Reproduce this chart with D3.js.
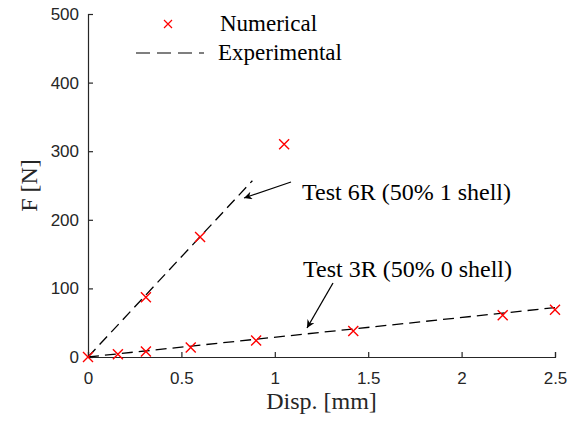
<!DOCTYPE html>
<html>
<head>
<meta charset="utf-8">
<script src="https://cdn.jsdelivr.net/npm/d3@7"></script>
<style>
  body { margin: 0; background: #fff; }
</style>
</head>
<body>
<div id="chart"></div>
<script>
// numerical results (red crosses)
var numX = [0, 0.31, 0.6, 1.05, 0.16, 0.31, 0.55, 0.9, 1.42, 2.22, 2.5];
var numY = [0, 87, 175, 310, 4, 8, 14, 24, 38, 61, 69];

// experimental curves (dashed)
var exp6RX = [0, 0.88];
var exp6RY = [0, 257];
var exp3RX = [0, 2.5];
var exp3RY = [0, 72];

var xTicks = [0, 0.5, 1, 1.5, 2, 2.5];
var yTicks = [0, 100, 200, 300, 400, 500];

var W = 579, H = 425;
var margin = { top: 14, right: 24, bottom: 68, left: 88 };

var sans = "'Liberation Sans', Arial, sans-serif";
var serif = "'Liberation Serif', 'Times New Roman', serif";
var axisColor = "#262626";

var svg = d3.select("#chart").append("svg")
  .attr("width", W)
  .attr("height", H);

var x = d3.scaleLinear().domain([0, 2.5]).range([margin.left, W - margin.right]);
var y = d3.scaleLinear().domain([0, 500]).range([H - margin.bottom, margin.top]);

// axes, ticks pointing inward
var gx = svg.append("g")
  .attr("transform", "translate(0," + y(0) + ")")
  .call(d3.axisBottom(x).tickValues(xTicks).tickSize(-5).tickPadding(15).tickFormat(d3.format("")));
var gy = svg.append("g")
  .attr("transform", "translate(" + x(0) + ",0)")
  .call(d3.axisLeft(y).tickValues(yTicks).tickSize(-5).tickPadding(9));

[gx, gy].forEach(function (g) {
  g.attr("font-family", sans).attr("font-size", 17);
  g.select(".domain").attr("stroke", axisColor).attr("stroke-width", 1.2);
  g.selectAll(".tick line").attr("stroke", axisColor).attr("stroke-width", 1.2);
  g.selectAll(".tick text").attr("fill", axisColor);
});

// axis labels
svg.append("text")
  .attr("x", x(1.25))
  .attr("y", 409)
  .attr("text-anchor", "middle")
  .style("font-family", serif)
  .style("font-size", "24px")
  .attr("fill", axisColor)
  .text("Disp. [mm]");

svg.append("text")
  .attr("transform", "translate(37," + y(250) + ") rotate(-90)")
  .attr("text-anchor", "middle")
  .style("font-family", serif)
  .style("font-size", "24px")
  .attr("fill", axisColor)
  .text("F [N]");

// dashed experimental lines
var line = d3.line().x(function (d) { return x(d[0]); }).y(function (d) { return y(d[1]); });
[[exp6RX, exp6RY], [exp3RX, exp3RY]].forEach(function (s) {
  svg.append("path")
    .datum(s[0].map(function (v, i) { return [v, s[1][i]]; }))
    .attr("d", line)
    .attr("fill", "none")
    .attr("stroke", "#000")
    .attr("stroke-width", 1.3)
    .attr("stroke-dasharray", "11,6");
});

// red crosses
svg.selectAll(".num")
  .data(numX.map(function (v, i) { return [v, numY[i]]; }))
  .enter()
  .append("path")
  .attr("class", "num")
  .attr("transform", function (d) { return "translate(" + x(d[0]) + "," + y(d[1]) + ")"; })
  .attr("d", "M-5,-5L5,5M-5,5L5,-5")
  .attr("stroke", "#ff0000")
  .attr("stroke-width", 1.4)
  .attr("fill", "none");

// legend
svg.append("path")
  .attr("transform", "translate(168,24)")
  .attr("d", "M-4,-4L4,4M-4,4L4,-4")
  .attr("stroke", "#ff0000")
  .attr("stroke-width", 1.2)
  .attr("fill", "none");
svg.append("line")
  .attr("x1", 136).attr("x2", 204)
  .attr("y1", 53).attr("y2", 53)
  .attr("stroke", "#000")
  .attr("stroke-width", 1.2)
  .attr("stroke-dasharray", "14,7");

svg.append("text").attr("x", 220).attr("y", 31)
  .style("font-family", serif).style("font-size", "23px").text("Numerical");
svg.append("text").attr("x", 218).attr("y", 60)
  .style("font-family", serif).style("font-size", "23px").text("Experimental");

// annotations with arrows
svg.append("defs").append("marker")
  .attr("id", "arr")
  .attr("viewBox", "0 0 10 10")
  .attr("refX", 10).attr("refY", 5)
  .attr("markerWidth", 11).attr("markerHeight", 8)
  .attr("markerUnits", "userSpaceOnUse")
  .attr("orient", "auto")
  .append("path")
  .attr("d", "M0,0L10,5L0,10L3,5Z")
  .attr("fill", "#000");

var notes = [
  { text: "Test 6R (50% 1 shell)", tx: 302, ty: 200, x1: 291, y1: 182, x2: 244, y2: 198 },
  { text: "Test 3R (50% 0 shell)", tx: 303, ty: 277, x1: 333, y1: 283, x2: 307, y2: 328 }
];
notes.forEach(function (n) {
  svg.append("line")
    .attr("x1", n.x1).attr("y1", n.y1)
    .attr("x2", n.x2).attr("y2", n.y2)
    .attr("stroke", "#000")
    .attr("stroke-width", 1.3)
    .attr("marker-end", "url(#arr)");
  svg.append("text")
    .attr("x", n.tx).attr("y", n.ty)
    .style("font-family", serif)
    .style("font-size", "24px")
    .text(n.text);
});
</script>
</body>
</html>
